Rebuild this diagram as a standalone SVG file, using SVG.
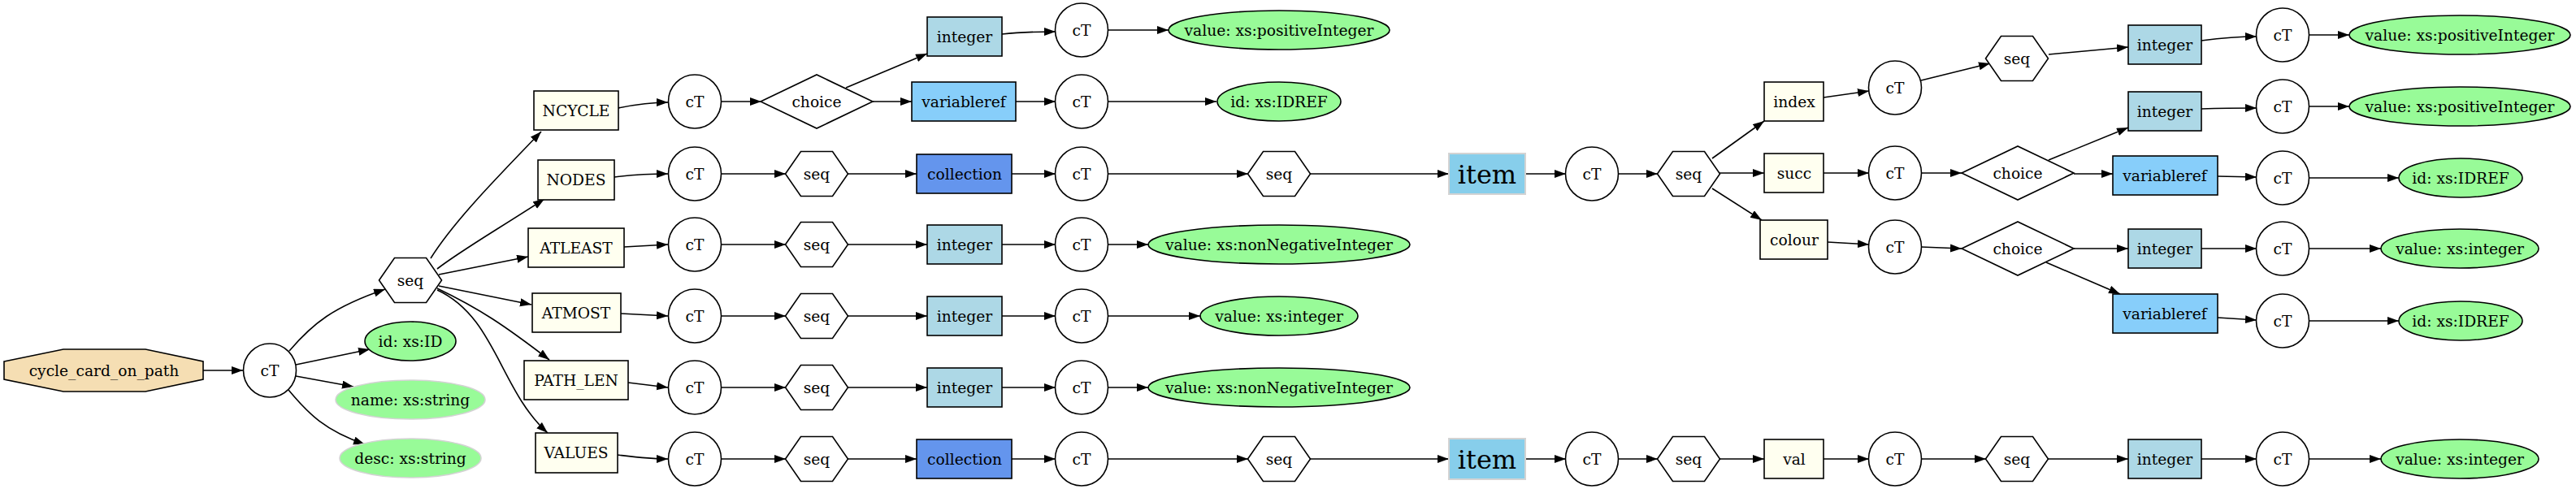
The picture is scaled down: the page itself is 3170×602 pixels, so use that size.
<svg xmlns="http://www.w3.org/2000/svg" width="3170" height="602" viewBox="0 0 3170 602">
<style>
text{font-family:"DejaVu Serif","Liberation Serif",serif;font-size:18.67px;text-anchor:middle;fill:#000}
.big{font-size:32px}
.s{stroke:#000;stroke-width:1.6}
.ct{fill:#fff}
.iv{fill:#fffff0}
.lb{fill:#add8e6}
.vr{fill:#87cefa}
.co{fill:#6495ed}
.gr{fill:#98fb98}
.hx{fill:#fff}
.it{fill:#87ceeb;stroke:#d3d3d3;stroke-width:2}
.gn{fill:#98fb98;stroke:#d3d3d3;stroke-width:1.6}
.e path{fill:none;stroke:#000;stroke-width:1.6;marker-end:url(#a)}
</style>
<defs>
<marker id="a" markerUnits="userSpaceOnUse" markerWidth="15" markerHeight="11" refX="14" refY="5" orient="auto"><path d="M0,0 L14,5 L0,10 z" fill="#000"/></marker>
<ellipse id="ctE" cx="0" cy="0" rx="32.5" ry="33"/>
<polygon id="hexP" points="-38.5,0 -19.5,-27.5 19.5,-27.5 38.5,0 19.5,27.5 -19.5,27.5"/>
<polygon id="diaP" points="-69,0 0,-33 69,0 0,33"/>
</defs>
<rect x="0" y="0" width="3170" height="602" fill="#fff"/>

<g id="connectors" class="e">
<path d="M250,456 L299,456"/>
<path d="M356,432 C385,398 410,378 474,356"/>
<path d="M364,449 L455,430"/>
<path d="M364,463 L435,476"/>
<path d="M355,480 C380,510 400,530 449,547"/>
<path d="M530,318 C560,270 620,210 666,162"/>
<path d="M538,331 C565,310 600,290 670,245"/>
<path d="M540,338 L650,316"/>
<path d="M540,352 L654,375"/>
<path d="M538,355 C590,380 620,400 676,443"/>
<path d="M538,357 C610,390 615,480 674,533"/>
<path d="M761,133 C785,128 800,126 822,126"/>
<path d="M887,125 L937,125"/>
<path d="M1041,108 L1141,66"/>
<path d="M1074,125 L1122,125"/>
<path d="M1233,42 C1260,39 1280,39 1299,39"/>
<path d="M1250,125 L1299,125"/>
<path d="M1364,37 L1438,37"/>
<path d="M1364,125 L1497,125"/>
<path d="M756,218 C780,215 800,214 822,214"/>
<path d="M887,214 L967,214"/>
<path d="M1044,214 L1128,214"/>
<path d="M1245,214 L1299,214"/>
<path d="M1364,214 L1536,214"/>
<path d="M1612,214 L1783,214"/>
<path d="M1877,214 L1927,214"/>
<path d="M1991,214 L2040,214"/>
<path d="M768,304 L822,301"/>
<path d="M887,301 L967,301"/>
<path d="M1044,301 L1141,301"/>
<path d="M1233,301 L1299,301"/>
<path d="M1364,301 L1413,301"/>
<path d="M764,386 L822,389"/>
<path d="M887,389 L967,389"/>
<path d="M1044,389 L1141,389"/>
<path d="M1233,389 L1299,389"/>
<path d="M1364,389 L1477,389"/>
<path d="M773,471 L822,477"/>
<path d="M887,477 L967,477"/>
<path d="M1044,477 L1141,477"/>
<path d="M1233,477 L1299,477"/>
<path d="M1364,477 L1413,477"/>
<path d="M760,560 C785,563 800,565 822,565"/>
<path d="M887,565 L967,565"/>
<path d="M1044,565 L1128,565"/>
<path d="M1245,565 L1299,565"/>
<path d="M1364,565 L1536,565"/>
<path d="M1612,565 L1783,565"/>
<path d="M1877,565 L1927,565"/>
<path d="M1991,565 L2040,565"/>
<path d="M2116,565 L2171,565"/>
<path d="M2244,565 L2300,565"/>
<path d="M2364,565 L2444,565"/>
<path d="M2521,565 L2619,565"/>
<path d="M2709,565 L2777,565"/>
<path d="M2841,565 L2930,565"/>
<path d="M2107,195 L2171,149"/>
<path d="M2116,213 L2171,213"/>
<path d="M2107,232 L2168,271"/>
<path d="M2244,120 L2300,112"/>
<path d="M2364,99 L2449,78"/>
<path d="M2521,67 L2619,58"/>
<path d="M2709,50 C2740,46 2760,45 2777,45"/>
<path d="M2841,43 L2891,43"/>
<path d="M2244,213 L2300,213"/>
<path d="M2364,213 L2414,213"/>
<path d="M2521,197 L2619,157"/>
<path d="M2552,214 L2600,214"/>
<path d="M2709,134 C2740,133 2760,133 2777,133"/>
<path d="M2841,131 L2891,131"/>
<path d="M2729,217 L2777,218"/>
<path d="M2841,219 L2952,219"/>
<path d="M2249,298 L2300,301"/>
<path d="M2364,304 L2414,306"/>
<path d="M2552,306 L2619,306"/>
<path d="M2709,306 L2777,306"/>
<path d="M2841,306 L2930,306"/>
<path d="M2518,323 L2609,362"/>
<path d="M2729,391 L2777,394"/>
<path d="M2841,395 L2952,395"/>
</g>

<g id="root"><polygon class="s" fill="#f5deb3" points="5,445 78,430 179,430 250,445 250,467 179,482 78,482 5,467"/><text x="128" y="463">cycle_card_on_path</text></g>
<g id="ct0"><use href="#ctE" x="332" y="456" class="s ct"/><text x="332" y="463">cT</text></g>
<g id="seq0"><use href="#hexP" x="505" y="345" class="s hx"/><text x="505" y="352">seq</text></g>
<g id="attr_id"><ellipse class="s gr" cx="505" cy="420" rx="56" ry="24"/><text x="505" y="427">id: xs:ID</text></g>
<g id="attr_name"><ellipse class="gn" cx="505" cy="492" rx="92" ry="24"/><text x="505" y="499">name: xs:string</text></g>
<g id="attr_desc"><ellipse class="gn" cx="505" cy="564" rx="87" ry="24"/><text x="505" y="571">desc: xs:string</text></g>

<g id="NCYCLE"><rect class="s iv" x="657" y="112" width="104" height="48"/><text x="709" y="143">NCYCLE</text></g>
<g id="NODES"><rect class="s iv" x="662" y="197" width="94" height="49"/><text x="709" y="228">NODES</text></g>
<g id="ATLEAST"><rect class="s iv" x="650" y="281" width="118" height="48"/><text x="709" y="312">ATLEAST</text></g>
<g id="ATMOST"><rect class="s iv" x="655" y="361" width="109" height="48"/><text x="709" y="392">ATMOST</text></g>
<g id="PATH_LEN"><rect class="s iv" x="645" y="444" width="128" height="48"/><text x="709" y="475">PATH_LEN</text></g>
<g id="VALUES"><rect class="s iv" x="659" y="533" width="101" height="49"/><text x="709" y="564">VALUES</text></g>

<g id="ct_ncycle"><use href="#ctE" x="855" y="125" class="s ct"/><text x="855" y="132">cT</text></g>
<g id="choice_ncycle"><use href="#diaP" x="1005" y="125" class="s hx"/><text x="1005" y="132">choice</text></g>
<g id="int_ncycle"><rect class="s lb" x="1141" y="21" width="92" height="48"/><text x="1187" y="52">integer</text></g>
<g id="ct_int_ncycle"><use href="#ctE" x="1331" y="37" class="s ct"/><text x="1331" y="44">cT</text></g>
<g id="val_int_ncycle"><ellipse class="s gr" cx="1574" cy="37" rx="136" ry="24"/><text x="1574" y="44">value: xs:positiveInteger</text></g>
<g id="vr_ncycle"><rect class="s vr" x="1122" y="101" width="128" height="48"/><text x="1186" y="132">variableref</text></g>
<g id="ct_vr_ncycle"><use href="#ctE" x="1331" y="125" class="s ct"/><text x="1331" y="132">cT</text></g>
<g id="id_vr_ncycle"><ellipse class="s gr" cx="1574" cy="125" rx="76" ry="24"/><text x="1574" y="132">id: xs:IDREF</text></g>

<g id="ct_nodes"><use href="#ctE" x="855" y="214" class="s ct"/><text x="855" y="221">cT</text></g>
<g id="seq_nodes"><use href="#hexP" x="1005" y="214" class="s hx"/><text x="1005" y="221">seq</text></g>
<g id="coll_nodes"><rect class="s co" x="1128" y="190" width="117" height="48"/><text x="1187" y="221">collection</text></g>
<g id="ct_coll_nodes"><use href="#ctE" x="1331" y="214" class="s ct"/><text x="1331" y="221">cT</text></g>
<g id="seq_coll_nodes"><use href="#hexP" x="1574" y="214" class="s hx"/><text x="1574" y="221">seq</text></g>
<g id="item_nodes"><rect class="it" x="1783" y="189" width="94" height="50"/><text class="big" x="1830" y="226">item</text></g>
<g id="ct_item_nodes"><use href="#ctE" x="1959" y="214" class="s ct"/><text x="1959" y="221">cT</text></g>
<g id="seq_item_nodes"><use href="#hexP" x="2078" y="214" class="s hx"/><text x="2078" y="221">seq</text></g>

<g id="index"><rect class="s iv" x="2171" y="101" width="73" height="48"/><text x="2208" y="132">index</text></g>
<g id="ct_index"><use href="#ctE" x="2332" y="108" class="s ct"/><text x="2332" y="115">cT</text></g>
<g id="seq_index"><use href="#hexP" x="2482" y="72" class="s hx"/><text x="2482" y="79">seq</text></g>
<g id="int_index"><rect class="s lb" x="2619" y="31" width="90" height="48"/><text x="2664" y="62">integer</text></g>
<g id="ct_int_index"><use href="#ctE" x="2809" y="43" class="s ct"/><text x="2809" y="50">cT</text></g>
<g id="val_int_index"><ellipse class="s gr" cx="3027" cy="43" rx="136" ry="24"/><text x="3027" y="50">value: xs:positiveInteger</text></g>

<g id="succ"><rect class="s iv" x="2171" y="189" width="73" height="48"/><text x="2208" y="220">succ</text></g>
<g id="ct_succ"><use href="#ctE" x="2332" y="213" class="s ct"/><text x="2332" y="220">cT</text></g>
<g id="choice_succ"><use href="#diaP" x="2483" y="213" class="s hx"/><text x="2483" y="220">choice</text></g>
<g id="int_succ"><rect class="s lb" x="2619" y="113" width="90" height="48"/><text x="2664" y="144">integer</text></g>
<g id="ct_int_succ"><use href="#ctE" x="2809" y="131" class="s ct"/><text x="2809" y="138">cT</text></g>
<g id="val_int_succ"><ellipse class="s gr" cx="3027" cy="131" rx="136" ry="24"/><text x="3027" y="138">value: xs:positiveInteger</text></g>
<g id="vr_succ"><rect class="s vr" x="2600" y="192" width="129" height="48"/><text x="2664" y="223">variableref</text></g>
<g id="ct_vr_succ"><use href="#ctE" x="2809" y="219" class="s ct"/><text x="2809" y="226">cT</text></g>
<g id="id_vr_succ"><ellipse class="s gr" cx="3028" cy="219" rx="76" ry="24"/><text x="3028" y="226">id: xs:IDREF</text></g>

<g id="colour"><rect class="s iv" x="2166" y="271" width="83" height="48"/><text x="2208" y="302">colour</text></g>
<g id="ct_colour"><use href="#ctE" x="2332" y="304" class="s ct"/><text x="2332" y="311">cT</text></g>
<g id="choice_colour"><use href="#diaP" x="2483" y="306" class="s hx"/><text x="2483" y="313">choice</text></g>
<g id="int_colour"><rect class="s lb" x="2619" y="282" width="90" height="48"/><text x="2664" y="313">integer</text></g>
<g id="ct_int_colour"><use href="#ctE" x="2809" y="306" class="s ct"/><text x="2809" y="313">cT</text></g>
<g id="val_int_colour"><ellipse class="s gr" cx="3027" cy="306" rx="97" ry="24"/><text x="3027" y="313">value: xs:integer</text></g>
<g id="vr_colour"><rect class="s vr" x="2600" y="362" width="129" height="48"/><text x="2664" y="393">variableref</text></g>
<g id="ct_vr_colour"><use href="#ctE" x="2809" y="395" class="s ct"/><text x="2809" y="402">cT</text></g>
<g id="id_vr_colour"><ellipse class="s gr" cx="3028" cy="395" rx="76" ry="24"/><text x="3028" y="402">id: xs:IDREF</text></g>

<g id="ct_atleast"><use href="#ctE" x="855" y="301" class="s ct"/><text x="855" y="308">cT</text></g>
<g id="seq_atleast"><use href="#hexP" x="1005" y="301" class="s hx"/><text x="1005" y="308">seq</text></g>
<g id="int_atleast"><rect class="s lb" x="1141" y="277" width="92" height="48"/><text x="1187" y="308">integer</text></g>
<g id="ct_int_atleast"><use href="#ctE" x="1331" y="301" class="s ct"/><text x="1331" y="308">cT</text></g>
<g id="val_atleast"><ellipse class="s gr" cx="1574" cy="301" rx="161" ry="24"/><text x="1574" y="308">value: xs:nonNegativeInteger</text></g>

<g id="ct_atmost"><use href="#ctE" x="855" y="389" class="s ct"/><text x="855" y="396">cT</text></g>
<g id="seq_atmost"><use href="#hexP" x="1005" y="389" class="s hx"/><text x="1005" y="396">seq</text></g>
<g id="int_atmost"><rect class="s lb" x="1141" y="365" width="92" height="48"/><text x="1187" y="396">integer</text></g>
<g id="ct_int_atmost"><use href="#ctE" x="1331" y="389" class="s ct"/><text x="1331" y="396">cT</text></g>
<g id="val_atmost"><ellipse class="s gr" cx="1574" cy="389" rx="97" ry="24"/><text x="1574" y="396">value: xs:integer</text></g>

<g id="ct_pathlen"><use href="#ctE" x="855" y="477" class="s ct"/><text x="855" y="484">cT</text></g>
<g id="seq_pathlen"><use href="#hexP" x="1005" y="477" class="s hx"/><text x="1005" y="484">seq</text></g>
<g id="int_pathlen"><rect class="s lb" x="1141" y="453" width="92" height="48"/><text x="1187" y="484">integer</text></g>
<g id="ct_int_pathlen"><use href="#ctE" x="1331" y="477" class="s ct"/><text x="1331" y="484">cT</text></g>
<g id="val_pathlen"><ellipse class="s gr" cx="1574" cy="477" rx="161" ry="24"/><text x="1574" y="484">value: xs:nonNegativeInteger</text></g>

<g id="ct_values"><use href="#ctE" x="855" y="565" class="s ct"/><text x="855" y="572">cT</text></g>
<g id="seq_values"><use href="#hexP" x="1005" y="565" class="s hx"/><text x="1005" y="572">seq</text></g>
<g id="coll_values"><rect class="s co" x="1128" y="541" width="117" height="48"/><text x="1187" y="572">collection</text></g>
<g id="ct_coll_values"><use href="#ctE" x="1331" y="565" class="s ct"/><text x="1331" y="572">cT</text></g>
<g id="seq_coll_values"><use href="#hexP" x="1574" y="565" class="s hx"/><text x="1574" y="572">seq</text></g>
<g id="item_values"><rect class="it" x="1783" y="540" width="94" height="50"/><text class="big" x="1830" y="577">item</text></g>
<g id="ct_item_values"><use href="#ctE" x="1959" y="565" class="s ct"/><text x="1959" y="572">cT</text></g>
<g id="seq_item_values"><use href="#hexP" x="2078" y="565" class="s hx"/><text x="2078" y="572">seq</text></g>
<g id="val"><rect class="s iv" x="2171" y="541" width="73" height="48"/><text x="2208" y="572">val</text></g>
<g id="ct_val"><use href="#ctE" x="2332" y="565" class="s ct"/><text x="2332" y="572">cT</text></g>
<g id="seq_val"><use href="#hexP" x="2482" y="565" class="s hx"/><text x="2482" y="572">seq</text></g>
<g id="int_val"><rect class="s lb" x="2619" y="541" width="90" height="48"/><text x="2664" y="572">integer</text></g>
<g id="ct_int_val"><use href="#ctE" x="2809" y="565" class="s ct"/><text x="2809" y="572">cT</text></g>
<g id="val_int_val"><ellipse class="s gr" cx="3027" cy="565" rx="97" ry="24"/><text x="3027" y="572">value: xs:integer</text></g>
</svg>
